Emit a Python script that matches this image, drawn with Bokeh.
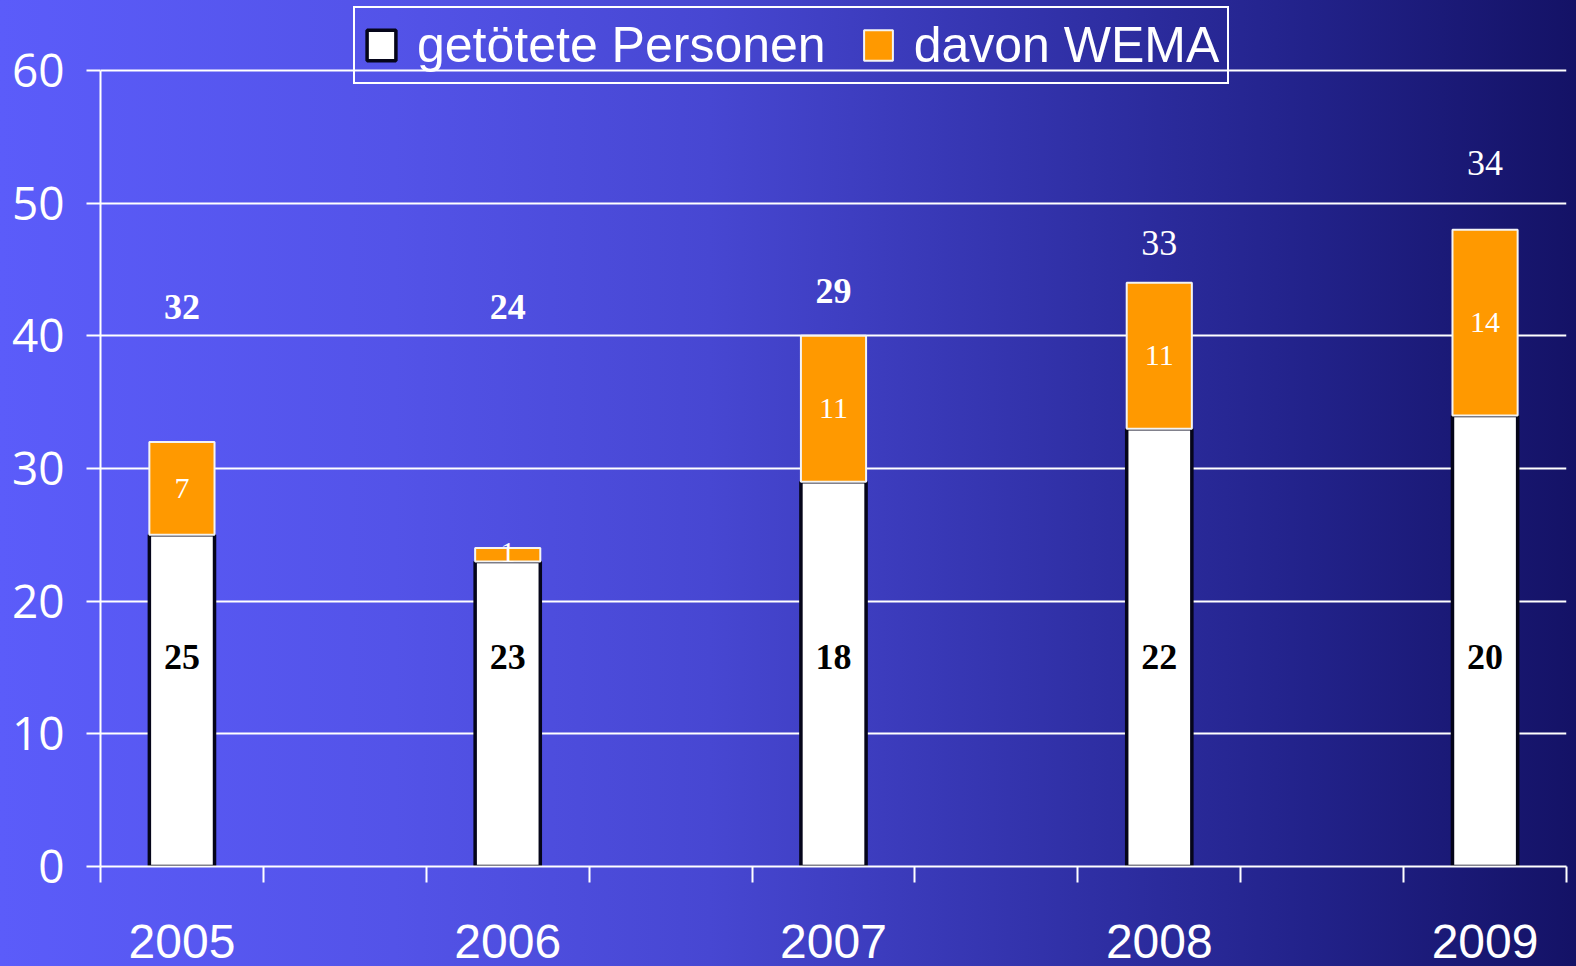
from bokeh.plotting import figure
from bokeh.models import FixedTicker, ColumnDataSource, Legend, LegendItem
from bokeh.core.properties import value
from bokeh.embed import file_html
from bokeh.resources import INLINE

years = ["2005", "2006", "2007", "2008", "2009"]
getoetete = [25, 23, 29, 33, 34]
wema = [7, 1, 11, 11, 14]
inner_labels = ["25", "23", "18", "22", "20"]
top_labels = ["32", "24", "29", "33", "34"]
top_label_y = [42.2, 42.2, 43.4, 47.0, 53.0]
top_bold = [True, True, True, False, False]
wema_labels = ["7", "1", "11", "11", "14"]
y_ticks = [0, 10, 20, 30, 40, 50, 60]

xs = list(range(len(years)))
tops = [g + w for g, w in zip(getoetete, wema)]

# frame reaches the top of the canvas so the legend (drawn inside the frame) can sit above the 60 line
p = figure(width=1576, height=966, output_backend="svg", toolbar_location=None,
           x_range=(-0.25, 4.25), y_range=(0, 65.28),
           min_border_left=100, min_border_right=10, min_border_top=0, min_border_bottom=100)
p.border_fill_alpha = 0
p.background_fill_alpha = 0
p.outline_line_color = None
p.styles = {"background": "linear-gradient(to right, #5b5cfa 0%, #5353e8 25%, #4747d2 45%, #3434ae 64%, #22228a 83%, #141266 100%)"}

# grid
p.xgrid.grid_line_color = None
p.ygrid.grid_line_color = "white"
p.ygrid.grid_line_width = 2
p.ygrid.ticker = FixedTicker(ticks=y_ticks[1:])

# y axis
p.yaxis.ticker = FixedTicker(ticks=y_ticks)
p.yaxis.bounds = (0, 60)
p.yaxis.axis_line_color = "white"
p.yaxis.axis_line_width = 2
p.yaxis.major_tick_line_color = "white"
p.yaxis.major_tick_line_width = 2
p.yaxis.major_tick_out = 14
p.yaxis.major_tick_in = 0
p.yaxis.minor_tick_line_color = None
p.yaxis.major_label_text_color = "white"
p.yaxis.major_label_text_font = "Open Sans"
p.yaxis.major_label_text_font_size = "46px"
p.yaxis.major_label_standoff = 22

# x axis
minor = [-0.25 + 0.5 * k for k in range(10)]
p.xaxis.ticker = FixedTicker(ticks=xs, minor_ticks=minor)
p.xaxis.major_label_overrides = {i: y for i, y in zip(xs, years)}
p.xaxis.axis_line_color = "white"
p.xaxis.axis_line_width = 2
p.xaxis.major_tick_line_color = None
p.xaxis.major_tick_out = 0
p.xaxis.major_tick_in = 0
p.xaxis.minor_tick_line_color = "white"
p.xaxis.minor_tick_line_width = 2
p.xaxis.minor_tick_out = 16
p.xaxis.minor_tick_in = 0
p.xaxis.major_label_text_color = "white"
p.xaxis.major_label_text_font = "Liberation Sans"
p.xaxis.major_label_text_font_size = "48px"
p.xaxis.major_label_standoff = 42

src = ColumnDataSource(dict(x=xs, g=getoetete, t=tops))
r1 = p.vbar(x="x", top="g", bottom=0, width=0.2, source=src,
            fill_color="white", line_color="#05051a", line_width=3.5)
r2 = p.vbar(x="x", top="t", bottom="g", width=0.2, source=src,
            fill_color="#ff9900", line_color="#f4f4f4", line_width=2)

# labels inside white bars
p.text(x=xs, y=[15.8] * 5, text=inner_labels,
       text_color="black", text_font=value("Liberation Serif"), text_font_style="bold",
       text_font_size="36px", text_align="center", text_baseline="middle")

# labels in orange segments
wy = [g + w / 2 for g, w in zip(getoetete, wema)]
wy[1] = 23.7
p.text(x=xs, y=wy, text=wema_labels,
       text_color="white", text_font=value("Liberation Serif"),
       text_font_size="30px", text_align="center", text_baseline="middle")

# labels above bars
bx = [i for i, b in zip(xs, top_bold) if b]
by = [y for y, b in zip(top_label_y, top_bold) if b]
bt = [t for t, b in zip(top_labels, top_bold) if b]
nx = [i for i, b in zip(xs, top_bold) if not b]
ny = [y for y, b in zip(top_label_y, top_bold) if not b]
nt = [t for t, b in zip(top_labels, top_bold) if not b]
p.text(x=bx, y=by, text=bt, text_color="white", text_font=value("Liberation Serif"),
       text_font_style="bold", text_font_size="36px", text_align="center", text_baseline="middle")
p.text(x=nx, y=ny, text=nt, text_color="white", text_font=value("Liberation Serif"),
       text_font_size="36px", text_align="center", text_baseline="middle")

legend = Legend(items=[LegendItem(label="getötete Personen", renderers=[r1]),
                       LegendItem(label="davon WEMA", renderers=[r2])],
                orientation="horizontal", location=(253, 782))
legend.background_fill_alpha = 0
legend.border_line_color = "white"
legend.border_line_alpha = 1.0
legend.border_line_width = 2
legend.label_text_color = "white"
legend.label_text_font = "Liberation Sans"
legend.label_text_font_size = "50px"
legend.glyph_width = 36
legend.glyph_height = 38
legend.label_standoff = 18
legend.spacing = 34
legend.padding = 8
legend.margin = 0
p.add_layout(legend, "center")

open("out.html", "w").write(file_html(p, INLINE))
